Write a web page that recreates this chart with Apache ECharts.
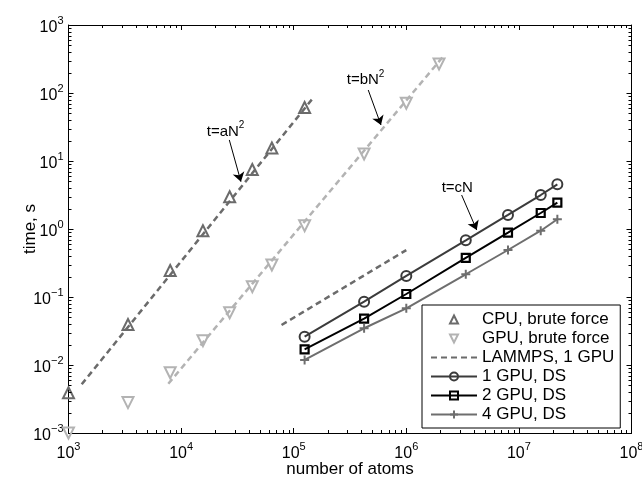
<!DOCTYPE html>
<html><head><meta charset="utf-8">
<script src="https://cdn.jsdelivr.net/npm/echarts@6/dist/echarts.min.js"></script>
<style>html,body{margin:0;padding:0;background:#fff}#c{width:642px;height:477px}</style>
</head><body><div id="c"></div>
<script>
// ---- data ----
const bruteN = [1000, 3375, 8000, 15625, 27000, 42875, 64000, 125000];
const cpuBrute = [0.0039, 0.0394, 0.245, 0.944, 2.98, 7.5, 15.5, 61.2];
const gpuBruteN = [1000, 3375, 8000, 15625, 27000, 42875, 64000, 125000, 421875, 1000000, 1953125];
const gpuBrute = [0.001, 0.0028, 0.0077, 0.0228, 0.0588, 0.142, 0.296, 1.12, 12.7, 70.6, 267];
const fitAN = [1310, 150000];
const fitAT = [0.0052, 86];
const fitBN = [7700, 2160000];
const fitBT = [0.0053, 355];
const lammpsN = [78000, 1000000];
const lammpsT = [0.0387, 0.49];
const dsN = [125000, 421875, 1000000, 3375000, 8000000, 15625000, 21952000];
const gpu1DS = [0.0261, 0.0853, 0.204, 0.682, 1.61, 3.16, 4.54];
const gpu2DS = [0.0170, 0.048, 0.1107, 0.375, 0.883, 1.72, 2.44];
const gpu4DS = [0.01186, 0.0347, 0.0682, 0.216, 0.491, 0.944, 1.39];
const legendNames = ['CPU, brute force', 'GPU, brute force', 'LAMMPS, 1 GPU', '1 GPU, DS', '2 GPU, DS', '4 GPU, DS'];
const annoText = ['t=aN', 't=bN', 't=cN'];
const annoSup = ['2', '2', ''];
const annoAt = [[16900, 27], [296000, 155], [2060000, 3.96]];
const arrowFrom = [[26800, 20.4], [459000, 110.7], [3100000, 3.16]];
const arrowTo = [[34000, 4.97], [596000, 33.8], [4220000, 0.966]];
const X_MIN = 1e3, X_MAX = 1e8, Y_MIN = 1e-3, Y_MAX = 1e3;

const FONT = 'Liberation Sans';
const pair = (xs, ys) => xs.map((x, i) => [x, ys[i]]);
const xMinor = [], yMinor = [];
for (let d = 3; d <= 7; d++) for (let k = 2; k <= 9; k++) xMinor.push(k * Math.pow(10, d));
for (let d = -3; d <= 2; d++) for (let k = 2; k <= 9; k++) yMinor.push(k * Math.pow(10, d));

function powLabel(v) {
  const e = Math.round(Math.log10(v));
  return '{b|10}{s|' + (e < 0 ? '\u2212' + (-e) : e) + '}';
}
const labelRich = {
  b: { fontSize: 16, lineHeight: 18, fontFamily: FONT, color: '#000', padding: [4, 0, 4, 0] },
  s: { fontSize: 11, lineHeight: 12, fontFamily: FONT, color: '#000', padding: [0, 0, 14, 0] }
};
const tick = { show: true, inside: true, length: 5, lineStyle: { color: '#000', width: 1 } };
const line = { show: true, lineStyle: { color: '#000', width: 1 } };

function axisX(pos, show) {
  return {
    type: 'log', logBase: 10, min: X_MIN, max: X_MAX, position: pos, splitNumber: 5,
    axisLine: line, axisTick: tick, splitLine: { show: false },
    axisLabel: show ? { show: true, formatter: powLabel, rich: labelRich, margin: 12, showMinLabel: true, showMaxLabel: true } : { show: false },
    name: show ? 'number of atoms' : '', nameLocation: 'middle', nameGap: 28, nameMoveOverlap: false,
    nameTextStyle: { fontSize: 17, fontFamily: FONT, color: '#000' }
  };
}
function axisY(pos, show) {
  return {
    type: 'log', logBase: 10, min: Y_MIN, max: Y_MAX, position: pos, splitNumber: 6,
    axisLine: line, axisTick: tick, splitLine: { show: false },
    axisLabel: show ? { show: true, formatter: powLabel, rich: labelRich, margin: 5, padding: [6, 0, 0, 0], showMinLabel: true, showMaxLabel: true } : { show: false },
    name: show ? 'time, s' : '', nameLocation: 'middle', nameGap: 30, nameMoveOverlap: false,
    nameTextStyle: { fontSize: 17, fontFamily: FONT, color: '#000' }
  };
}

const minorX = {
  type: 'custom', silent: true, z: 5, xAxisIndex: 0, yAxisIndex: 0,
  data: xMinor.map(v => [v, 1]),
  renderItem: (p, api) => {
    const v = api.value(0);
    const b = api.coord([v, Y_MIN]), t = api.coord([v, Y_MAX]);
    const x = Math.round(b[0]) + 0.5;
    return { type: 'group', children: [
      { type: 'line', shape: { x1: x, y1: b[1], x2: x, y2: b[1] - 3 }, style: { stroke: '#000', lineWidth: 1 } },
      { type: 'line', shape: { x1: x, y1: t[1], x2: x, y2: t[1] + 3 }, style: { stroke: '#000', lineWidth: 1 } }
    ] };
  }
};
const minorY = {
  type: 'custom', silent: true, z: 5, xAxisIndex: 0, yAxisIndex: 0,
  data: yMinor.map(v => [1e4, v]),
  renderItem: (p, api) => {
    const v = api.value(1);
    const l = api.coord([X_MIN, v]), r = api.coord([X_MAX, v]);
    const y = Math.round(l[1]) + 0.5;
    return { type: 'group', children: [
      { type: 'line', shape: { x1: l[0], y1: y, x2: l[0] + 3, y2: y }, style: { stroke: '#000', lineWidth: 1 } },
      { type: 'line', shape: { x1: r[0], y1: y, x2: r[0] - 3, y2: y }, style: { stroke: '#000', lineWidth: 1 } }
    ] };
  }
};

const DARK = '#6b6b6b', LIGHT = '#b3b3b3', C1 = '#3b3b3b', C2 = '#000000', C4 = '#6e6e6e';
const dash = [6, 4];

const option = {
  animation: false,
  backgroundColor: '#fff',
  textStyle: { fontFamily: FONT },
  grid: { left: 68.5, right: 10.5, top: 25, bottom: 44, containLabel: false, outerBoundsMode: 'none' },
  xAxis: [axisX('bottom', true), axisX('top', false)],
  yAxis: [axisY('left', true), axisY('right', false)],
  legend: {
    left: 422, top: 305, orient: 'vertical', data: legendNames,
    itemWidth: 46, itemHeight: 10, itemGap: 2, padding: [6, 6, 5, 8],
    backgroundColor: '#fff', borderColor: '#000', borderWidth: 1, borderRadius: 0,
    selectedMode: false,
    textStyle: { fontSize: 17, color: '#000', fontFamily: FONT }
  },
  series: [
    minorX, minorY,
    {
      name: 'fitA', type: 'line', data: pair(fitAN, fitAT), showSymbol: false, symbol: 'none', silent: true,
      lineStyle: { color: DARK, width: 2.5, type: dash }, z: 2,
      markLine: {
        silent: true, symbol: ['none', 'arrow'], symbolSize: 9,
        lineStyle: { color: '#000', width: 1, type: 'solid' }, label: { show: false },
        data: arrowFrom.map((f, i) => [{ coord: f }, { coord: arrowTo[i] }])
      },
      markPoint: {
        silent: true, symbol: 'circle', symbolSize: 0,
        label: {
          show: true, position: 'right', distance: 0, color: '#000',
          rich: { m: { fontSize: 15, fontFamily: FONT, color: '#000' }, s: { fontSize: 10, fontFamily: FONT, color: '#000', padding: [0, 0, 12, 0] } }
        },
        data: annoAt.map((c, i) => ({ coord: c, label: { formatter: '{m|' + annoText[i] + '}' + (annoSup[i] ? '{s|' + annoSup[i] + '}' : '') } }))
      }
    },
    {
      name: 'fitB', type: 'line', data: pair(fitBN, fitBT), showSymbol: false, symbol: 'none', silent: true,
      lineStyle: { color: LIGHT, width: 2.5, type: dash }, z: 2
    },
    {
      name: legendNames[0], type: 'line', data: pair(bruteN, cpuBrute),
      symbol: 'triangle', symbolSize: 11, showAllSymbol: true,
      lineStyle: { width: 0, opacity: 0 },
      itemStyle: { color: 'transparent', borderColor: DARK, borderWidth: 2 }, z: 3
    },
    {
      name: legendNames[1], type: 'line', data: pair(gpuBruteN, gpuBrute),
      symbol: 'triangle', symbolRotate: 180, symbolSize: 11, showAllSymbol: true,
      lineStyle: { width: 0, opacity: 0 },
      itemStyle: { color: 'transparent', borderColor: LIGHT, borderWidth: 2 }, z: 3
    },
    {
      name: legendNames[2], type: 'line', data: pair(lammpsN, lammpsT), symbol: 'none', showSymbol: false,
      itemStyle: { color: 'transparent', borderColor: 'transparent', borderWidth: 0, opacity: 0 },
      lineStyle: { color: DARK, width: 2.5, type: dash }, z: 2
    },
    {
      name: legendNames[3], type: 'line', data: pair(dsN, gpu1DS),
      symbol: 'circle', symbolSize: 10, showAllSymbol: true,
      itemStyle: { color: 'transparent', borderColor: C1, borderWidth: 2 },
      lineStyle: { color: C1, width: 2 }, z: 3
    },
    {
      name: legendNames[4], type: 'line', data: pair(dsN, gpu2DS),
      symbol: 'rect', symbolSize: 8, showAllSymbol: true,
      itemStyle: { color: 'transparent', borderColor: C2, borderWidth: 2.2 },
      lineStyle: { color: C2, width: 2 }, z: 3
    },
    {
      name: legendNames[5], type: 'line', data: pair(dsN, gpu4DS),
      symbol: 'path://M0,5L10,5M5,0L5,10', symbolSize: 9, showAllSymbol: true,
      itemStyle: { color: 'none', borderColor: C4, borderWidth: 2 },
      lineStyle: { color: C4, width: 2 }, z: 3
    }
  ]
};
const chart = echarts.init(document.getElementById('c'), null, { renderer: 'canvas' });
chart.setOption(option);
</script>
</body></html>
